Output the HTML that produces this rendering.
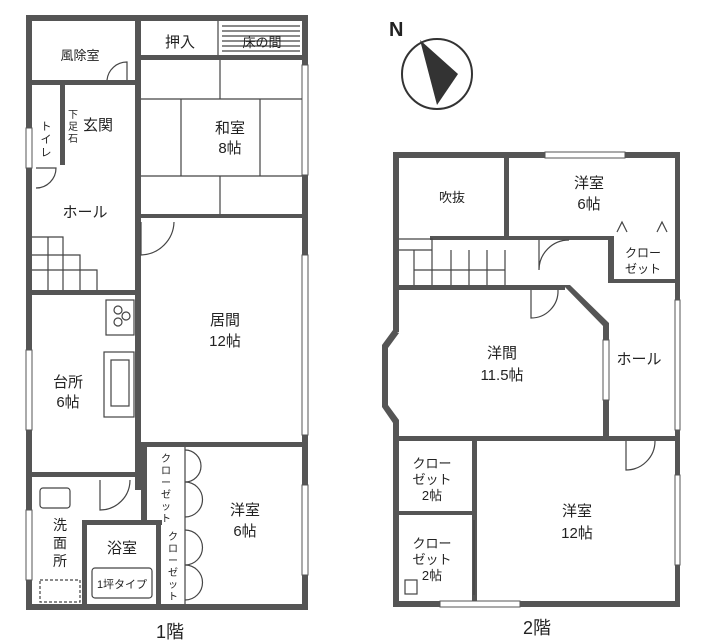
<!DOCTYPE html>
<html><head><meta charset="utf-8"><style>
html,body{margin:0;padding:0;background:#fff;width:704px;height:640px;overflow:hidden}
svg{display:block}
text{font-family:"Liberation Sans","Noto Sans CJK JP",sans-serif;fill:#222}
</style></head><body>
<svg width="704" height="640" viewBox="0 0 704 640">
<g fill="#555">
<rect x="26" y="15" width="282" height="6"/>
<rect x="26" y="15" width="6" height="595"/>
<rect x="302" y="15" width="6" height="595"/>
<rect x="26" y="604" width="282" height="6"/>
<rect x="135" y="15" width="6" height="475"/>
<rect x="141" y="55" width="161" height="5"/>
<rect x="141" y="214" width="161" height="4"/>
<rect x="32" y="80" width="103" height="5"/>
<rect x="60" y="85" width="5" height="80"/>
<rect x="32" y="290" width="103" height="5"/>
<rect x="32" y="472" width="108" height="5"/>
<rect x="141" y="442" width="167" height="5"/>
<rect x="141" y="442" width="6" height="80"/>
<rect x="82" y="520" width="80" height="5"/>
<rect x="82" y="520" width="5" height="86"/>
<rect x="156" y="520" width="5" height="86"/>
<rect x="393" y="152" width="287" height="6"/>
<rect x="393" y="152" width="6" height="180"/>
<rect x="393" y="420" width="6" height="187"/>
<rect x="675" y="152" width="5" height="455"/>
<rect x="393" y="601" width="287" height="6"/>
<rect x="504" y="158" width="5" height="78"/>
<rect x="430" y="236" width="182" height="4"/>
<rect x="608" y="236" width="6" height="47"/>
<rect x="608" y="279" width="67" height="4"/>
<rect x="399" y="285" width="166" height="5"/>
<polygon points="563,285 570,285 609,323 609,330 603,330 603,326"/>
<rect x="603" y="326" width="6" height="114"/>
<rect x="399" y="436" width="276" height="5"/>
<rect x="472" y="441" width="5" height="162"/>
<rect x="399" y="511" width="76" height="4"/>
<polygon points="393,330 382,345 382,407 393,423 399,420 388,405 388,348 399,333"/>
</g>
<g fill="#fff" stroke="#555" stroke-width="1">
<rect x="26" y="128" width="6" height="40"/>
<rect x="26" y="350" width="6" height="80"/>
<rect x="26" y="510" width="6" height="70"/>
<rect x="302" y="65" width="6" height="110"/>
<rect x="302" y="255" width="6" height="180"/>
<rect x="302" y="485" width="6" height="90"/>
<rect x="545" y="152" width="80" height="6"/>
<rect x="675" y="300" width="5" height="130"/>
<rect x="675" y="475" width="5" height="90"/>
<rect x="440" y="601" width="80" height="6"/>
<rect x="603" y="340" width="6" height="60"/>
</g>
<g fill="none" stroke="#444" stroke-width="1.2">
<line x1="141" y1="99" x2="302" y2="99"/><line x1="141" y1="176" x2="302" y2="176"/>
<line x1="220" y1="60" x2="220" y2="99"/><line x1="220" y1="176" x2="220" y2="214"/>
<line x1="181" y1="99" x2="181" y2="176"/><line x1="260" y1="99" x2="260" y2="176"/>
<line x1="218" y1="21" x2="218" y2="55"/>
<path d="M222 26H300M222 31H300M222 36H300M222 41H300M222 46H300M222 51H300"/>
<path d="M127 80V62A20 20 0 0 0 107 80"/>
<path d="M36 188A20 20 0 0 0 56 168H36"/>
<path d="M141 222V255A34 34 0 0 0 174 222"/>
<path d="M100 480V510A30 30 0 0 0 130 480"/>
<path d="M32 237H63V255H80V270H97V290M48 237V290M63 255V290M80 270V290M32 255H63M32 270H80"/>
<rect x="106" y="300" width="28" height="35"/>
<circle cx="118" cy="310" r="4"/><circle cx="126" cy="316" r="4"/><circle cx="118" cy="322" r="4"/>
<rect x="104" y="352" width="30" height="65"/><rect x="111" y="360" width="18" height="46"/>
<rect x="40" y="488" width="30" height="20" rx="3"/>
<rect x="40" y="580" width="40" height="22" stroke-dasharray="3,2"/>
<rect x="92" y="568" width="60" height="30" rx="3"/>
<line x1="185" y1="447" x2="185" y2="604"/>
<path d="M185 450A15 15 0 0 1 185 482A15 15 0 0 1 185 517"/>
<path d="M185 530A15 15 0 0 1 185 565A15 15 0 0 1 185 600"/>
<path d="M399 239H432V250H399M414 250V285M432 250V285M451 250V285M469 250V285M487 250V285M505 250V285M414 270H505"/>
<path d="M539 240V270A30 30 0 0 1 569 240"/>
<path d="M531 290V318A27 27 0 0 0 558 290"/>
<path d="M626 441V470A29 29 0 0 0 655 441"/>
<path d="M617 232L622 222L627 232M657 232L662 222L667 232"/>
<rect x="405" y="580" width="12" height="14"/>
<line x1="474" y1="520" x2="474" y2="595"/>
</g>
<circle cx="437" cy="74" r="35" fill="#fff" stroke="#333" stroke-width="2"/>
<polygon points="420,40 437,105 458,74" fill="#333"/>
<text x="389" y="36" font-size="20" font-weight="bold">N</text>
<g font-size="15" text-anchor="middle">
<text x="80" y="60" font-size="13">風除室</text>
<text x="180" y="47">押入</text>
<text x="262" y="47" font-size="13">床の間</text>
<text x="230" y="133">和室</text><text x="230" y="153">8帖</text>
<text x="98" y="130">玄関</text>
<text x="85" y="217">ホール</text>
<text x="225" y="325">居間</text><text x="225" y="346">12帖</text>
<text x="68" y="387">台所</text><text x="68" y="407">6帖</text>
<text x="245" y="515">洋室</text><text x="245" y="536">6帖</text>
<text x="122" y="553">浴室</text>
<text x="122" y="588" font-size="11">1坪タイプ</text>
<text x="60" y="530" font-size="14">洗</text><text x="60" y="548" font-size="14">面</text><text x="60" y="566" font-size="14">所</text>
<text x="46" y="130" font-size="11">ト</text><text x="46" y="143" font-size="11">イ</text><text x="46" y="156" font-size="11">レ</text>
<text x="170" y="638" font-size="18">1階</text>
<text x="537" y="634" font-size="18">2階</text>
</g>
<g font-size="10" text-anchor="middle">
<text x="166" y="462">ク</text><text x="166" y="474">ロ</text><text x="166" y="486">ー</text><text x="166" y="498">ゼ</text><text x="166" y="510">ッ</text><text x="166" y="522">ト</text>
<text x="173" y="540">ク</text><text x="173" y="552">ロ</text><text x="173" y="564">ー</text><text x="173" y="576">ゼ</text><text x="173" y="588">ッ</text><text x="173" y="600">ト</text>
<text x="73" y="118">下</text><text x="73" y="130">足</text><text x="73" y="142">石</text>
</g>
<g font-size="15" text-anchor="middle">
<text x="452" y="202" font-size="13">吹抜</text>
<text x="589" y="188">洋室</text><text x="589" y="209">6帖</text>
<text x="643" y="257" font-size="12">クロー</text><text x="643" y="273" font-size="12">ゼット</text>
<text x="502" y="358">洋間</text><text x="502" y="380">11.5帖</text>
<text x="639" y="364">ホール</text>
<text x="432" y="468" font-size="13">クロー</text><text x="432" y="484" font-size="13">ゼット</text><text x="432" y="500" font-size="13">2帖</text>
<text x="432" y="548" font-size="13">クロー</text><text x="432" y="564" font-size="13">ゼット</text><text x="432" y="580" font-size="13">2帖</text>
<text x="577" y="516">洋室</text><text x="577" y="538">12帖</text>
</g>
</svg>
</body></html>
